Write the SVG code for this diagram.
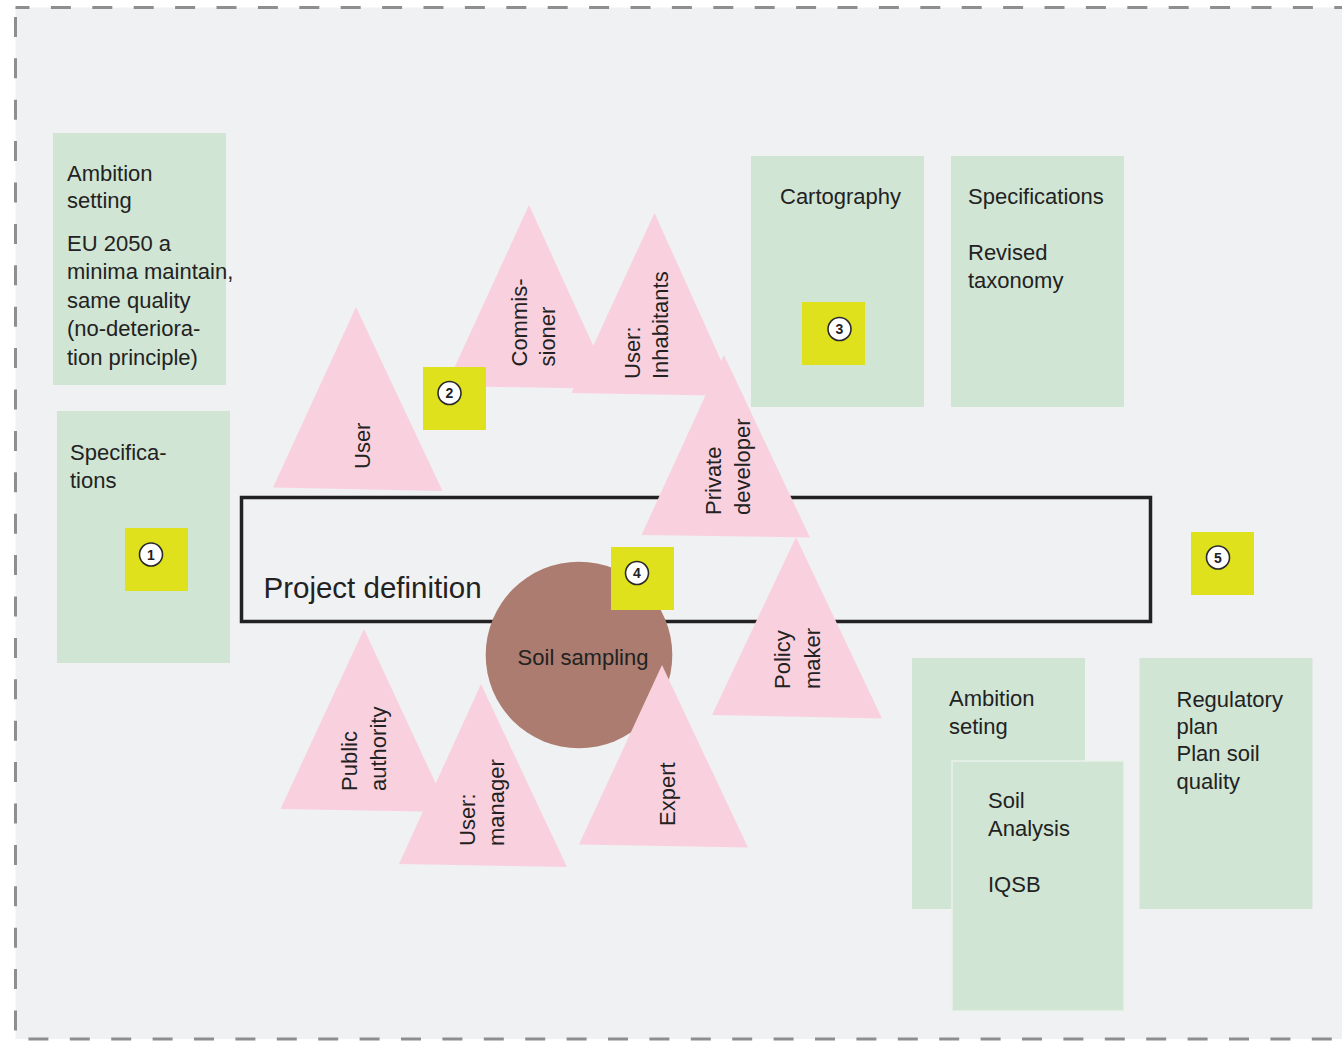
<svg xmlns="http://www.w3.org/2000/svg" width="1342" height="1042" viewBox="0 0 1342 1042">
  <style>
    text { font-family: "Liberation Sans", Arial, sans-serif; fill: #222; }
    .lbl { font-size: 22px; }
    .card { fill: #d1e5d4; }
    .tri { fill: #f9d1de; }
    .tag { fill: #dfe11c; }
    .dot { fill: #fff; stroke: #2a2a2a; stroke-width: 1.6; }
    .num { font-size: 14px; font-weight: bold; text-anchor: middle; }
  </style>

  <!-- canvas -->
  <rect x="0" y="0" width="1342" height="1042" fill="#ffffff"/>
  <rect x="15.5" y="7.5" width="1340" height="1031.5" fill="#f0f1f3" stroke="#8e8e8e" stroke-width="3" stroke-dasharray="20 21.4" stroke-dashoffset="6"/>

  <!-- cards -->
  <g id="card-ambition-setting">
    <rect class="card" x="53" y="133" width="173" height="252"/>
    <text class="lbl">
      <tspan x="67" y="180.5">Ambition</tspan>
      <tspan x="67" y="208">setting</tspan>
      <tspan x="67" y="250.5">EU 2050 a</tspan>
      <tspan x="67" y="279">minima maintain,</tspan>
      <tspan x="67" y="307.5">same quality</tspan>
      <tspan x="67" y="336">(no-deteriora-</tspan>
      <tspan x="67" y="364.5">tion principle)</tspan>
    </text>
  </g>

  <g id="card-specifications-left">
    <rect class="card" x="57" y="411" width="173" height="252"/>
    <text class="lbl">
      <tspan x="70" y="459.5">Specifica-</tspan>
      <tspan x="70" y="488">tions</tspan>
    </text>
  </g>

  <g id="card-cartography">
    <rect class="card" x="751" y="156" width="173" height="251"/>
    <text class="lbl" x="780" y="204">Cartography</text>
  </g>

  <g id="card-specifications-right">
    <rect class="card" x="951" y="156" width="173" height="251"/>
    <text class="lbl">
      <tspan x="968" y="203.5">Specifications</tspan>
      <tspan x="968" y="259.5">Revised</tspan>
      <tspan x="968" y="287.5">taxonomy</tspan>
    </text>
  </g>

  <g id="card-ambition-seting">
    <rect class="card" x="912" y="658" width="173" height="251"/>
    <text class="lbl">
      <tspan x="949" y="706">Ambition</tspan>
      <tspan x="949" y="734">seting</tspan>
    </text>
  </g>

  <g id="card-regulatory-plan">
    <rect class="card" x="1139.5" y="658" width="173" height="251"/>
    <text class="lbl">
      <tspan x="1176.5" y="706.5">Regulatory</tspan>
      <tspan x="1176.5" y="734">plan</tspan>
      <tspan x="1176.5" y="761">Plan soil</tspan>
      <tspan x="1176.5" y="788.5">quality</tspan>
    </text>
  </g>

  <g id="card-soil-analysis">
    <rect class="card" x="952" y="761" width="172" height="250" stroke="#e9f2ea" stroke-width="1.5"/>
    <text class="lbl">
      <tspan x="988" y="808">Soil</tspan>
      <tspan x="988" y="836">Analysis</tspan>
      <tspan x="988" y="892">IQSB</tspan>
    </text>
  </g>

  <!-- step markers on cards -->
  <g id="marker-1">
    <rect class="tag" x="125" y="528" width="63" height="63"/>
    <circle class="dot" cx="151" cy="554.5" r="11.5"/>
    <text class="num" x="151" y="559.5">1</text>
  </g>
  <g id="marker-3">
    <rect class="tag" x="802" y="302" width="63" height="63"/>
    <circle class="dot" cx="839.5" cy="329" r="11.5"/>
    <text class="num" x="839.5" y="334">3</text>
  </g>

  <!-- actors, upper group -->
  <g id="actor-user">
    <polygon class="tri" points="356,307 273,487.5 442.5,491"/>
    <text class="lbl" transform="translate(370 469) rotate(-90)">User</text>
  </g>
  <g id="actor-commissioner">
    <polygon class="tri" points="529,205 446,386 613,389"/>
    <text class="lbl" transform="translate(526.5 366.5) rotate(-90)">
      <tspan x="0" y="0">Commis-</tspan>
      <tspan x="0" y="28.5">sioner</tspan>
    </text>
  </g>
  <g id="actor-inhabitants">
    <polygon class="tri" points="654.5,213 571.5,393 737,396"/>
    <text class="lbl" transform="translate(640 379) rotate(-90)">
      <tspan x="0" y="0">User:</tspan>
      <tspan x="0" y="27.5">Inhabitants</tspan>
    </text>
  </g>

  <g id="marker-2">
    <rect class="tag" x="423" y="367" width="63" height="63"/>
    <circle class="dot" cx="449.5" cy="393" r="11.5"/>
    <text class="num" x="449.5" y="398">2</text>
  </g>

  <!-- project frame -->
  <g id="project-definition">
    <rect x="241.5" y="497.5" width="909" height="124" fill="none" stroke="#222" stroke-width="3.5"/>
    <text x="263.5" y="598" font-size="29.5">Project definition</text>
  </g>

  <g id="actor-private-developer">
    <polygon class="tri" points="724,355 641.5,535 810,537.5"/>
    <text class="lbl" transform="translate(721 515) rotate(-90)">
      <tspan x="0" y="0">Private</tspan>
      <tspan x="0" y="29">developer</tspan>
    </text>
  </g>

  <g id="soil-sampling">
    <circle cx="579" cy="655" r="93.3" fill="#ab7c6f"/>
    <text class="lbl" x="583" y="665" text-anchor="middle">Soil sampling</text>
  </g>

  <g id="marker-4">
    <rect class="tag" x="611" y="547" width="63" height="63"/>
    <circle class="dot" cx="637" cy="573" r="11.5"/>
    <text class="num" x="637" y="578">4</text>
  </g>

  <!-- actors, lower group -->
  <g id="actor-policy-maker">
    <polygon class="tri" points="796,537 712,715 882,718.5"/>
    <text class="lbl" transform="translate(790 689) rotate(-90)">
      <tspan x="0" y="0">Policy</tspan>
      <tspan x="0" y="30">maker</tspan>
    </text>
  </g>
  <g id="actor-expert">
    <polygon class="tri" points="662,665 579,844.5 748,847.5"/>
    <text class="lbl" transform="translate(675 826) rotate(-90)">Expert</text>
  </g>
  <g id="actor-public-authority">
    <polygon class="tri" points="364,629 280.5,809 449,812"/>
    <text class="lbl" transform="translate(357 791) rotate(-90)">
      <tspan x="0" y="0">Public</tspan>
      <tspan x="0" y="28.5">authority</tspan>
    </text>
  </g>
  <g id="actor-user-manager">
    <polygon class="tri" points="481,684 399,864 567,867"/>
    <text class="lbl" transform="translate(475 846) rotate(-90)">
      <tspan x="0" y="0">User:</tspan>
      <tspan x="0" y="28.5">manager</tspan>
    </text>
  </g>

  <g id="marker-5">
    <rect class="tag" x="1191" y="532" width="63" height="63"/>
    <circle class="dot" cx="1218" cy="557.5" r="11.5"/>
    <text class="num" x="1218" y="562.5">5</text>
  </g>
</svg>
